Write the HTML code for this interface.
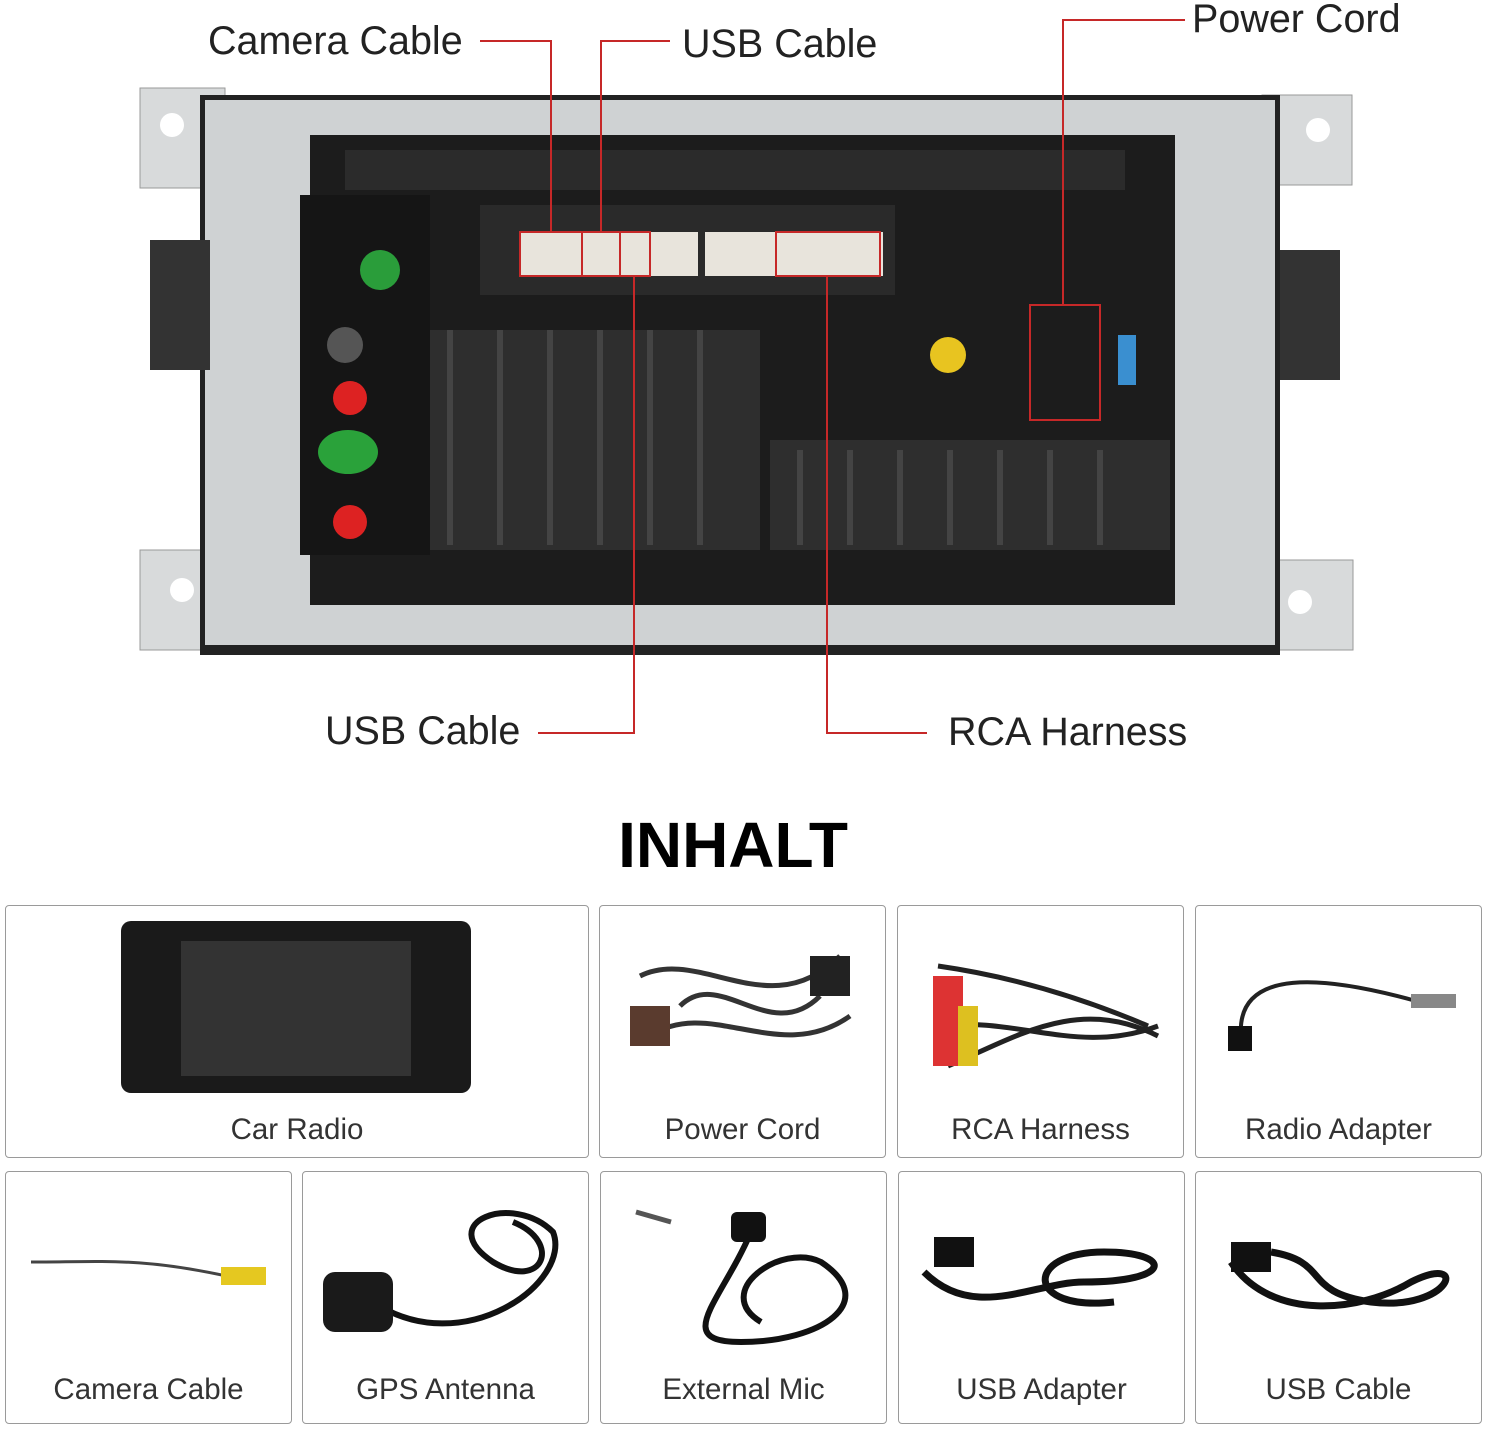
<!DOCTYPE html>
<html><head><meta charset="utf-8"><style>
body{margin:0;width:1488px;height:1433px;background:#fff;position:relative;overflow:hidden;font-family:"Liberation Sans",sans-serif}
.a{position:absolute}
.lbl{position:absolute;font-size:39.5px;color:#222;white-space:nowrap;line-height:1}
.box{position:absolute;border:1.5px solid #9a9a9a;border-radius:4px;background:#fff}
.cap{position:absolute;left:0;right:0;text-align:center;font-size:29.5px;color:#333}
</style></head><body>
<svg class="a" style="left:0;top:0" width="1488" height="800">
<rect x="140" y="88" width="85" height="100" fill="#d8dadb" stroke="#999"/>
<rect x="1262" y="95" width="90" height="90" fill="#d8dadb" stroke="#999"/>
<rect x="140" y="550" width="85" height="100" fill="#d8dadb" stroke="#999"/>
<rect x="1258" y="560" width="95" height="90" fill="#d8dadb" stroke="#999"/>
<rect x="200" y="95" width="1080" height="560" fill="#222"/>
<rect x="205" y="100" width="1070" height="545" fill="#cfd2d3"/>
<rect x="150" y="240" width="60" height="130" fill="#333"/>
<rect x="1280" y="250" width="60" height="130" fill="#333"/>
<circle cx="172" cy="125" r="12" fill="#fff"/><circle cx="1318" cy="130" r="12" fill="#fff"/>
<circle cx="182" cy="590" r="12" fill="#fff"/><circle cx="1300" cy="602" r="12" fill="#fff"/>
<rect x="310" y="135" width="865" height="470" fill="#1c1c1c"/>
<rect x="345" y="150" width="780" height="40" fill="#2b2b2b"/>
<rect x="300" y="195" width="130" height="360" fill="#151515"/>
<rect x="480" y="205" width="415" height="90" fill="#2a2a2a"/>
<rect x="520" y="232" width="178" height="44" fill="#e8e4dc"/>
<rect x="705" y="232" width="178" height="44" fill="#e8e4dc"/>
<g fill="#2e2e2e">
<rect x="430" y="330" width="330" height="220"/>
<rect x="770" y="440" width="400" height="110"/>
</g>
<g stroke="#444" stroke-width="6">
<line x1="450" y1="330" x2="450" y2="545"/><line x1="500" y1="330" x2="500" y2="545"/><line x1="550" y1="330" x2="550" y2="545"/><line x1="600" y1="330" x2="600" y2="545"/><line x1="650" y1="330" x2="650" y2="545"/><line x1="700" y1="330" x2="700" y2="545"/>
<line x1="800" y1="450" x2="800" y2="545"/><line x1="850" y1="450" x2="850" y2="545"/><line x1="900" y1="450" x2="900" y2="545"/><line x1="950" y1="450" x2="950" y2="545"/><line x1="1000" y1="450" x2="1000" y2="545"/><line x1="1050" y1="450" x2="1050" y2="545"/><line x1="1100" y1="450" x2="1100" y2="545"/>
</g>
<circle cx="380" cy="270" r="20" fill="#2a9d3a"/>
<circle cx="345" cy="345" r="18" fill="#555"/>
<circle cx="350" cy="398" r="17" fill="#d22"/>
<ellipse cx="348" cy="452" rx="30" ry="22" fill="#2aa23a"/>
<circle cx="350" cy="522" r="17" fill="#d22"/>
<circle cx="948" cy="355" r="18" fill="#e8c420"/>
<rect x="1118" y="335" width="18" height="50" fill="#3a8fd0"/>
<g fill="none" stroke="#c62828" stroke-width="2">
<polyline points="480,41 551,41 551,232"/>
<polyline points="670,41 601,41 601,232"/>
<polyline points="1185,20 1063,20 1063,305"/>
<polyline points="538,733 634,733 634,276"/>
<polyline points="927,733 827,733 827,276"/>
<rect x="520" y="232" width="62" height="44"/>
<rect x="582" y="232" width="38" height="44"/>
<rect x="620" y="232" width="30" height="44"/>
<rect x="776" y="232" width="104" height="44"/>
<rect x="1030" y="305" width="70" height="115"/>
</g>
</svg>
<div class="lbl" style="left:208px;top:22px">Camera Cable</div>
<div class="lbl" style="left:682px;top:25px">USB Cable</div>
<div class="lbl" style="left:1192px;top:0px">Power Cord</div>
<div class="lbl" style="left:325px;top:712px">USB Cable</div>
<div class="lbl" style="left:948px;top:713px">RCA Harness</div>
<div class="a" style="left:0;width:1466px;top:808px;text-align:center;font-size:64px;font-weight:bold;color:#000">INHALT</div>

<div class="box" style="left:5px;top:905px;width:582px;height:251px">
<div class="a" style="left:115px;top:15px;width:350px;height:172px;background:#1a1a1a;border-radius:10px"></div>
<div class="a" style="left:175px;top:35px;width:230px;height:135px;background:#333"></div>
<div class="cap" style="top:207px">Car Radio</div></div>
<div class="box" style="left:599px;top:905px;width:285px;height:251px">
<svg class="a" style="left:20px;top:30px" width="250" height="140"><path d="M20 40 C80 10 150 90 220 20 M30 100 C90 60 160 130 230 80 M60 70 C100 30 150 110 200 60" stroke="#333" stroke-width="5" fill="none"/><rect x="10" y="70" width="40" height="40" fill="#5a3b2e"/><rect x="190" y="20" width="40" height="40" fill="#222"/></svg>
<div class="cap" style="top:207px">Power Cord</div></div>
<div class="box" style="left:897px;top:905px;width:285px;height:251px">
<svg class="a" style="left:20px;top:30px" width="250" height="150"><path d="M20 30 C90 40 160 60 230 90 M20 90 C100 80 160 120 240 90 M30 130 C100 100 160 60 240 100" stroke="#222" stroke-width="5" fill="none"/><rect x="15" y="40" width="30" height="90" fill="#d33"/><rect x="40" y="70" width="20" height="60" fill="#ddc020"/></svg>
<div class="cap" style="top:207px">RCA Harness</div></div>
<div class="box" style="left:1195px;top:905px;width:285px;height:251px">
<svg class="a" style="left:20px;top:60px" width="250" height="100"><path d="M25 70 C20 0 110 10 200 35" stroke="#222" stroke-width="4" fill="none"/><rect x="12" y="60" width="24" height="25" fill="#111"/><rect x="195" y="28" width="45" height="14" fill="#888"/></svg>
<div class="cap" style="top:207px">Radio Adapter</div></div>

<div class="box" style="left:5px;top:1171px;width:285px;height:251px">
<svg class="a" style="left:15px;top:70px" width="260" height="60"><path d="M10 20 C80 20 120 15 210 35" stroke="#444" stroke-width="3" fill="none"/><rect x="200" y="25" width="45" height="18" fill="#e5c820"/></svg>
<div class="cap" style="top:201px">Camera Cable</div></div>
<div class="box" style="left:302px;top:1171px;width:285px;height:251px">
<svg class="a" style="left:10px;top:30px" width="265" height="160"><path d="M60 100 C150 160 260 80 240 30 C200 -10 120 20 180 60 C230 90 250 40 200 20" stroke="#111" stroke-width="6" fill="none"/><rect x="10" y="70" width="70" height="60" rx="12" fill="#1a1a1a"/></svg>
<div class="cap" style="top:201px">GPS Antenna</div></div>
<div class="box" style="left:600px;top:1171px;width:285px;height:251px">
<svg class="a" style="left:20px;top:30px" width="250" height="150"><path d="M130 30 C100 100 50 140 120 140 C200 140 260 100 200 60 C160 40 90 90 140 120" stroke="#111" stroke-width="6" fill="none"/><rect x="110" y="10" width="35" height="30" rx="6" fill="#111"/><line x1="15" y1="10" x2="50" y2="20" stroke="#555" stroke-width="5"/></svg>
<div class="cap" style="top:201px">External Mic</div></div>
<div class="box" style="left:898px;top:1171px;width:285px;height:251px">
<svg class="a" style="left:15px;top:50px" width="260" height="100"><path d="M10 50 C60 100 120 60 170 60 C260 60 260 30 190 30 C110 30 110 90 200 80" stroke="#111" stroke-width="7" fill="none"/><rect x="20" y="15" width="40" height="30" fill="#111"/></svg>
<div class="cap" style="top:201px">USB Adapter</div></div>
<div class="box" style="left:1195px;top:1171px;width:285px;height:251px">
<svg class="a" style="left:15px;top:50px" width="260" height="110"><path d="M20 40 C60 100 150 90 200 60 C260 30 240 90 160 80 C90 70 120 40 60 30" stroke="#111" stroke-width="7" fill="none"/><rect x="20" y="20" width="40" height="30" fill="#111"/></svg>
<div class="cap" style="top:201px">USB Cable</div></div>
</body></html>
